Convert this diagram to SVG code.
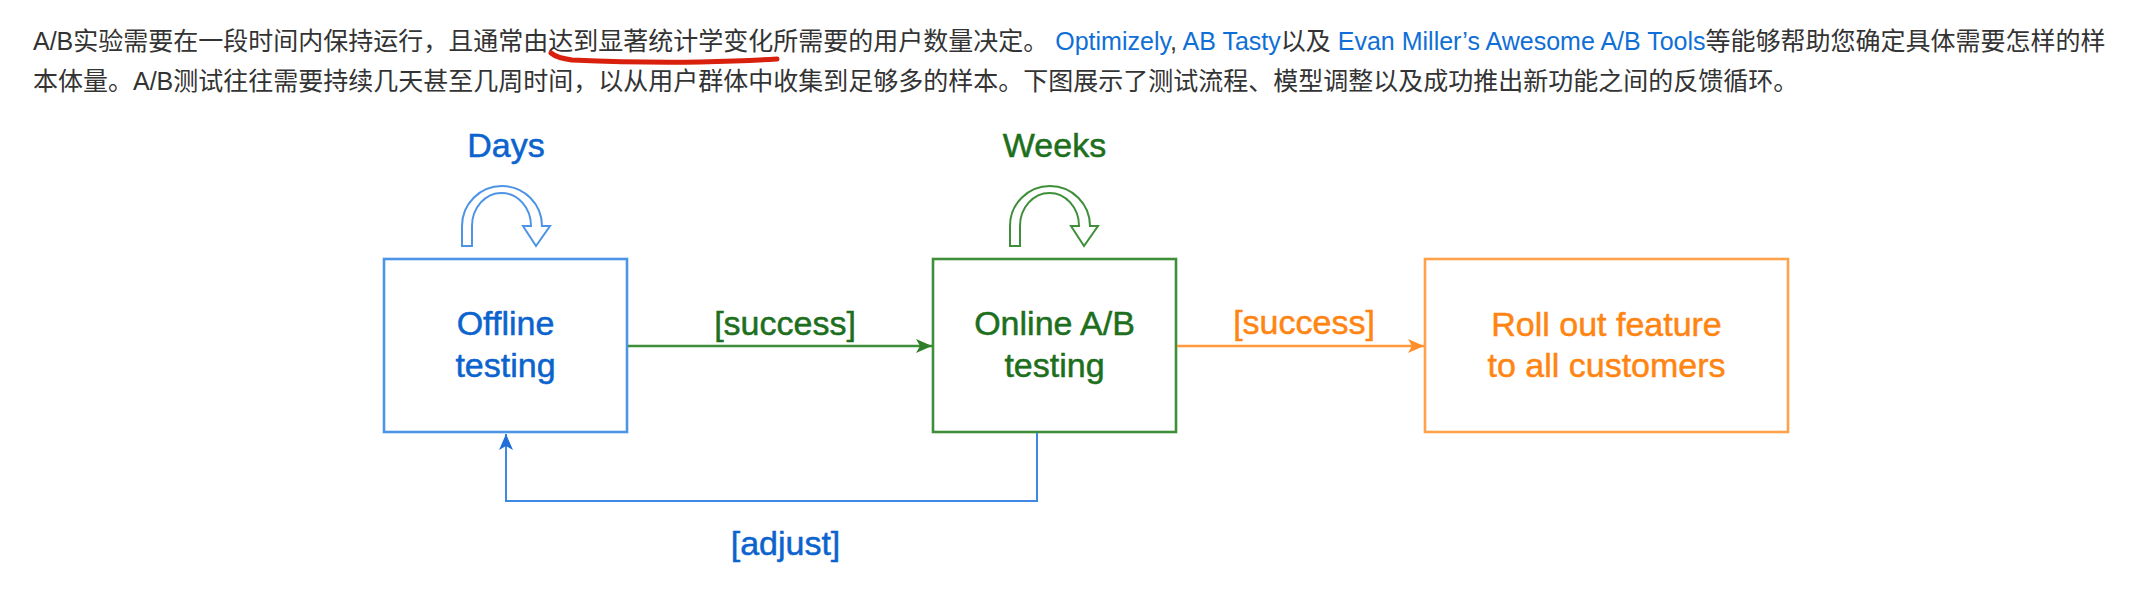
<svg xmlns="http://www.w3.org/2000/svg" width="2148" height="600" viewBox="0 0 2148 600">
  <style>
    .para { font-family: "Liberation Sans", "Noto Sans CJK SC", sans-serif; font-size: 25px; fill: #333333; }
    .link { fill: #0f6fd6; }
    .lbl { font-family: "Liberation Sans", Arial, sans-serif; font-size: 34px; text-anchor: middle; stroke-width: 0.5; }
    .box { fill: #ffffff; stroke-width: 2.6; }
    .blueT { fill: #0b63ce; stroke: #0b63ce; }
    .greenT { fill: #1d6f1d; stroke: #1d6f1d; }
    .orangeT { fill: #ff8512; stroke: #ff8512; }
    .loop { fill: #ffffff; stroke-width: 2; stroke-linejoin: miter; }
  </style>
  <defs>
    <marker id="arrGreen" markerUnits="userSpaceOnUse" markerWidth="18" markerHeight="16" refX="17" refY="8" orient="auto">
      <path d="M1,1 L17,8 L1,15 L5,8 Z" fill="#2f7f2a"/>
    </marker>
    <marker id="arrOrange" markerUnits="userSpaceOnUse" markerWidth="18" markerHeight="16" refX="17" refY="8" orient="auto">
      <path d="M1,1 L17,8 L1,15 L5,8 Z" fill="#ff8f2a"/>
    </marker>
    <marker id="arrBlue" markerUnits="userSpaceOnUse" markerWidth="18" markerHeight="16" refX="17" refY="8" orient="auto">
      <path d="M1,1 L17,8 L1,15 L5,8 Z" fill="#1f6fd8"/>
    </marker>
    <path id="uturn" d="M462,246 V226 A40,40 0 0 1 542,226 H550 L536,246 L523,226 H531 A29.5,33 0 0 0 472,226 V246 Z"/>
  </defs>
  <rect width="2148" height="600" fill="#ffffff"/>

  <g id="paragraph">
    <text class="para" x="33" y="50">A/B实验需要在一段时间内保持运行，且通常由达到显著统计学变化所需要的用户数量决定。<tspan class="link"> Optimizely</tspan>, <tspan class="link">AB Tasty</tspan>以及 <tspan class="link">Evan Miller’s Awesome A/B Tools</tspan>等能够帮助您确定具体需要怎样的样</text>
    <text class="para" x="33" y="90">本体量。A/B测试往往需要持续几天甚至几周时间，以从用户群体中收集到足够多的样本。下图展示了测试流程、模型调整以及成功推出新功能之间的反馈循环。</text>
    <path d="M551,53 Q557,58 572,60 Q640,63 700,62 Q745,61 777,59" fill="none" stroke="#d8200c" stroke-width="5" stroke-linecap="round"/>
  </g>

  <g id="node-offline">
    <rect class="box" x="384" y="259" width="243" height="173" stroke="#4d94e6"/>
    <text class="lbl blueT" x="505.5" y="335">Offline</text>
    <text class="lbl blueT" x="505.5" y="377">testing</text>
  </g>

  <g id="node-online">
    <rect class="box" x="933" y="259" width="243" height="173" stroke="#3f8f3a"/>
    <text class="lbl greenT" x="1054.5" y="335">Online A/B</text>
    <text class="lbl greenT" x="1054.5" y="377">testing</text>
  </g>

  <g id="node-rollout">
    <rect class="box" x="1425" y="259" width="363" height="173" stroke="#ffa24a"/>
    <text class="lbl orangeT" x="1606.5" y="336">Roll out feature</text>
    <text class="lbl orangeT" x="1606.5" y="377">to all customers</text>
  </g>

  <g id="connectors">
    <g id="loop-days">
      <use href="#uturn" class="loop" stroke="#4d94e6"/>
      <text class="lbl blueT" x="506" y="157">Days</text>
    </g>
    <g id="loop-weeks">
      <use href="#uturn" class="loop" stroke="#3f8f3a" transform="translate(548,0)"/>
      <text class="lbl greenT" x="1054.5" y="157">Weeks</text>
    </g>
    <g id="edge-offline-online">
      <line x1="628" y1="346" x2="932" y2="346" stroke="#3f8f3a" stroke-width="2.6" marker-end="url(#arrGreen)"/>
      <text class="lbl greenT" x="785" y="335">[success]</text>
    </g>
    <g id="edge-online-rollout">
      <line x1="1177" y1="346" x2="1424" y2="346" stroke="#ff9a3c" stroke-width="2.6" marker-end="url(#arrOrange)"/>
      <text class="lbl orangeT" x="1304" y="334">[success]</text>
    </g>
    <g id="edge-online-offline">
      <path d="M1037,433 V501 H506 V434" fill="none" stroke="#3d88e3" stroke-width="2" marker-end="url(#arrBlue)"/>
      <text class="lbl blueT" x="785.5" y="555">[adjust]</text>
    </g>
  </g>
</svg>
